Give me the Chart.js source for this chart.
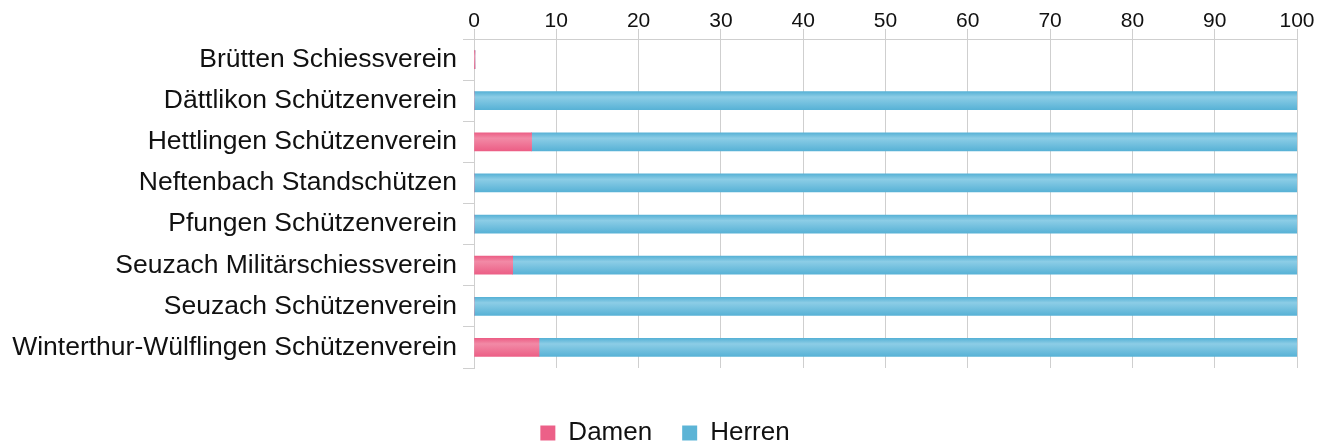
<!DOCTYPE html>
<html>
<head>
<meta charset="utf-8">
<script src="https://cdn.jsdelivr.net/npm/chart.js@4.4.1/dist/chart.umd.min.js"></script>
<style>
    html, body { margin: 0; padding: 0; background: #fff; }
    #wrap { width: 1330px; height: 446px; }
</style>
</head>
<body>
<div id="wrap"><canvas id="chart"></canvas></div>
<script>
// --- Data ---
const clubs = [
    'Brütten Schiessverein',
    'Dättlikon Schützenverein',
    'Hettlingen Schützenverein',
    'Neftenbach Standschützen',
    'Pfungen Schützenverein',
    'Seuzach Militärschiessverein',
    'Seuzach Schützenverein',
    'Winterthur-Wülflingen Schützenverein'
];
const damen = [0.12, 0, 7, 0, 0, 4.7, 0, 7.9];
const herren = [0, 100, 93, 100, 100, 95.3, 100, 92.1];
const xTicks = [0, 10, 20, 30, 40, 50, 60, 70, 80, 90, 100];

// --- Styles ---
const FONT = "'Liberation Sans', Arial, sans-serif";
const GRID = '#cfcfcf';
const TEXT = '#111111';
const BAR_H = 18;

function barGradient(light, dark, flat) {
    return (context) => {
        const chart = context.chart;
        const y = chart.scales && chart.scales.y;
        if (!chart.chartArea || !y || context.dataIndex === undefined) return flat;
        const mid = y.getPixelForValue(context.dataIndex);
        const g = chart.ctx.createLinearGradient(0, mid - BAR_H / 2, 0, mid + BAR_H / 2);
        g.addColorStop(0, dark);
        g.addColorStop(0.3, light);
        g.addColorStop(1, dark);
        return g;
    };
}

// spacer axes only reserve room, they draw nothing
const spacer = (position, size) => ({
    type: 'linear', position: position, display: true,
    afterFit: (scale) => {
        if (position === 'bottom') scale.height = size;
        else scale.width = size;
    },
    grid: { display: false }, border: { display: false }, ticks: { display: false }
});

const ctx = document.getElementById('chart');
new Chart(ctx, {
    type: 'bar',
    data: {
        labels: clubs,
        datasets: [
            { label: 'Damen', data: damen, backgroundColor: barGradient('#f28aa6', '#ec5f86', '#ee6a8e'), borderWidth: 0, barThickness: BAR_H },
            { label: 'Herren', data: herren, backgroundColor: barGradient('#8ccde6', '#58b2d6', '#62b7d9'), borderWidth: 0, barThickness: BAR_H }
        ]
    },
    options: {
        indexAxis: 'y',
        responsive: true, maintainAspectRatio: false, animation: false,
        layout: { padding: { left: 0, right: 0, top: 0, bottom: -10 } },
        scales: {
            x: {
                position: 'top', stacked: true, min: 0, max: 100,
                afterBuildTicks: (scale) => { scale.ticks = xTicks.map(v => ({ value: v })); },
                afterFit: (scale) => { scale.height = 39; },
                grid: { color: GRID, lineWidth: 1, tickLength: 10 },
                border: { display: true, color: GRID },
                ticks: { color: TEXT, padding: -5, font: { family: FONT, size: 21 } }
            },
            y: {
                stacked: true,
                afterFit: (scale) => { scale.width = 474; },
                grid: { offset: true, drawOnChartArea: false, color: GRID, tickLength: 11 },
                border: { display: true, color: GRID },
                ticks: { color: TEXT, padding: 6, font: { family: FONT, size: 26.5 } }
            },
            gapBottom: spacer('bottom', 22),
            gapRight: spacer('right', 33)
        },
        plugins: {
            legend: {
                position: 'bottom',
                labels: {
                    color: TEXT, boxWidth: 15, boxHeight: 15, padding: 30,
                    font: { family: FONT, size: 26 },
                    generateLabels: (chart) => chart.data.datasets.map((ds, i) => ({
                        text: ds.label, fillStyle: i === 0 ? '#ec6088' : '#5cb4d6',
                        strokeStyle: 'rgba(0,0,0,0)', lineWidth: 0, datasetIndex: i, fontColor: TEXT
                    }))
                }
            },
            tooltip: { enabled: false }
        }
    }
});
</script>
</body>
</html>
